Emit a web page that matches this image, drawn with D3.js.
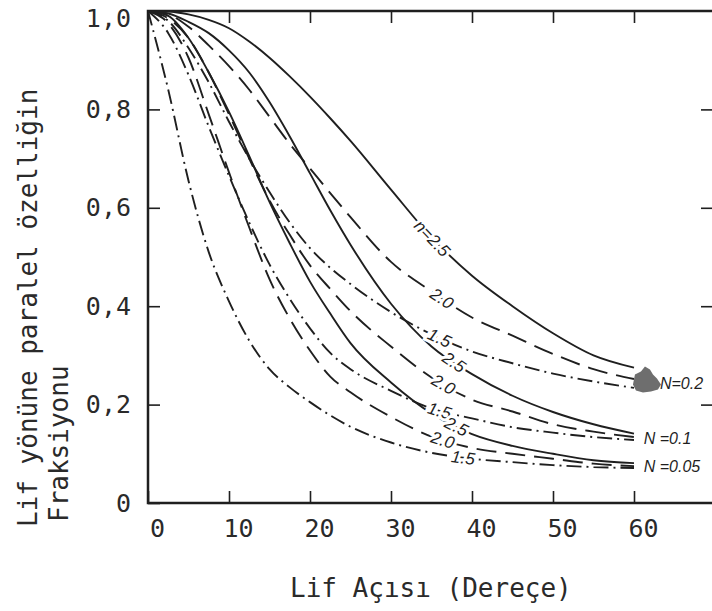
<!DOCTYPE html>
<html>
<head>
<meta charset="utf-8">
<script src="https://cdn.jsdelivr.net/npm/d3@7"></script>
<style>
  body { margin: 0; background: #fff; }
  svg { display: block; }
</style>
</head>
<body>
<svg id="chart" width="712" height="611"></svg>
<script>
// fibre angle (degrees) at which the curves were read
const angles = [0, 2.5, 5, 7.5, 10, 12.5, 15, 17.5, 20, 22.5, 25, 30, 35, 40, 45, 50, 55, 60]

// K = 0.2
const k02n25 = [1, 0.999, 0.993, 0.982, 0.965, 0.938, 0.905, 0.867, 0.826, 0.782, 0.736, 0.637, 0.54, 0.462, 0.40, 0.345, 0.30, 0.275]
const k02n20 = [1, 0.993, 0.968, 0.93, 0.888, 0.84, 0.785, 0.73, 0.68, 0.63, 0.581, 0.49, 0.43, 0.377, 0.34, 0.303, 0.272, 0.252]
const k02n15 = [1, 0.98, 0.925, 0.855, 0.775, 0.70, 0.632, 0.57, 0.518, 0.478, 0.445, 0.388, 0.343, 0.308, 0.284, 0.263, 0.247, 0.234]
// K = 0.1
const k01n25 = [1, 0.995, 0.978, 0.955, 0.92, 0.875, 0.815, 0.745, 0.67, 0.595, 0.525, 0.405, 0.318, 0.262, 0.218, 0.185, 0.16, 0.141]
const k01n20 = [1, 0.985, 0.945, 0.875, 0.79, 0.70, 0.615, 0.545, 0.483, 0.435, 0.39, 0.318, 0.255, 0.21, 0.186, 0.16, 0.145, 0.134]
const k01n15 = [1, 0.955, 0.87, 0.765, 0.665, 0.57, 0.485, 0.415, 0.355, 0.305, 0.272, 0.228, 0.192, 0.172, 0.154, 0.143, 0.134, 0.128]
// K = 0.05
const k005n25 = [1, 0.99, 0.945, 0.875, 0.795, 0.705, 0.612, 0.528, 0.45, 0.385, 0.325, 0.245, 0.182, 0.14, 0.116, 0.10, 0.087, 0.081]
const k005n20 = [1, 0.975, 0.905, 0.79, 0.672, 0.56, 0.455, 0.375, 0.31, 0.257, 0.225, 0.175, 0.135, 0.112, 0.10, 0.09, 0.08, 0.075]
const k005n15 = [1, 0.84, 0.655, 0.51, 0.41, 0.33, 0.272, 0.235, 0.205, 0.178, 0.155, 0.123, 0.102, 0.09, 0.083, 0.077, 0.073, 0.071]

const xTicks = [0, 10, 20, 30, 40, 50, 60]
const yTicks = [0, 0.2, 0.4, 0.6, 0.8, 1.0]
const yTickLabels = ["0", "0,2", "0,4", "0,6", "0,8", "1,0"]

const groupNames = ["N=0.2", "N =0.1", "N =0.05"]

// one entry per curve: values, its n, and the angle where its label sits
const curves = [
  {group: 0, n: "2.5", values: k02n25, labelAt: 35.1, text: "n=2.5"},
  {group: 0, n: "2.0", values: k02n20, labelAt: 36.3, text: "2.0"},
  {group: 0, n: "1.5", values: k02n15, labelAt: 36.0, text: "1.5"},
  {group: 1, n: "2.5", values: k01n25, labelAt: 37.8, text: "2.5"},
  {group: 1, n: "2.0", values: k01n20, labelAt: 36.5, text: "2.0"},
  {group: 1, n: "1.5", values: k01n15, labelAt: 36.0, text: "1.5"},
  {group: 2, n: "2.5", values: k005n25, labelAt: 38.1, text: "2.5"},
  {group: 2, n: "2.0", values: k005n20, labelAt: 36.4, text: "2.0"},
  {group: 2, n: "1.5", values: k005n15, labelAt: 38.9, text: "1.5"}
]

const dashByN = {"2.5": null, "2.0": "20,9", "1.5": "15,5,2,5"}
const ink = "#1f1f1f"
const mono = "'DejaVu Sans Mono', monospace"
const labelFont = "'Liberation Sans', Arial, sans-serif"

const svg = d3.select("#chart")
svg.append("rect").attr("width", 712).attr("height", 611).attr("fill", "#fff")

const x = d3.scaleLinear().domain([0, 70]).range([148, 715])
const y = d3.scaleLinear().domain([0, 1]).range([503, 11])

// axes with inward ticks
const bottomAxis = svg.append("g")
  .attr("transform", `translate(0,${y(0)})`)
  .call(d3.axisBottom(x).tickValues(xTicks).tickSize(-12).tickPadding(16).tickFormat(d => d))
svg.append("g")
  .attr("transform", `translate(0,${y(1)})`)
  .call(d3.axisTop(x).tickValues([10, 20, 30, 40, 50, 60]).tickSize(-12).tickFormat(""))
const leftAxis = svg.append("g")
  .attr("transform", `translate(${x(0)},0)`)
  .call(d3.axisLeft(y).tickValues(yTicks).tickSize(-12).tickPadding(17).tickFormat((d, i) => yTickLabels[i]))
svg.append("g")
  .attr("transform", `translate(${x(70)},0)`)
  .call(d3.axisRight(y).tickValues([0.2, 0.4, 0.6, 0.8]).tickSize(-14).tickFormat(""))

svg.selectAll(".domain").remove()
svg.selectAll(".tick line").attr("stroke", ink).attr("stroke-width", 1.6)
svg.selectAll(".tick text")
  .attr("font-family", mono)
  .attr("font-size", 25)
  .attr("fill", "#2a2a2a")
bottomAxis.selectAll(".tick text").attr("dx", 9)
// top label sits a little lower so it is not cut at the page edge
leftAxis.selectAll(".tick text").filter(d => d === 1).attr("dy", "0.62em")

// frame
const frame = svg.append("g").attr("stroke", ink).attr("stroke-width", 2.5).attr("fill", "none")
frame.append("path").attr("d", `M${x(70)},${y(1)}H${x(0)}V${y(0)}H${x(70)}`)

// curves
const line = d3.line()
  .x((d, i) => x(angles[i]))
  .y(d => y(d))
  .curve(d3.curveMonotoneX)

svg.append("g")
  .selectAll("path")
  .data(curves)
  .join("path")
  .attr("d", d => line(d.values))
  .attr("fill", "none")
  .attr("stroke", ink)
  .attr("stroke-width", 1.9)
  .attr("stroke-dasharray", d => dashByN[d.n])

function valueAt(values, t) {
  const i = Math.min(d3.bisectRight(angles, t), angles.length - 1)
  const a = angles[i - 1], b = angles[i]
  return values[i - 1] + (values[i] - values[i - 1]) * (t - a) / (b - a)
}

// inline n labels, masking the line under them
svg.append("g")
  .selectAll("text")
  .data(curves)
  .join("text")
  .attr("transform", d => {
    const t = d.labelAt
    const px = x(t), py = y(valueAt(d.values, t))
    const ang = Math.atan2(y(valueAt(d.values, t + 2)) - y(valueAt(d.values, t - 2)), x(t + 2) - x(t - 2)) * 180 / Math.PI
    return `translate(${px},${py}) rotate(${ang})`
  })
  .attr("text-anchor", "middle")
  .attr("dy", "0.36em")
  .attr("font-family", labelFont)
  .attr("font-style", "italic")
  .attr("font-size", 17)
  .attr("fill", ink)
  .attr("stroke", "#fff")
  .attr("stroke-width", 6)
  .attr("paint-order", "stroke")
  .text(d => d.text)

// scan blot near the K = 0.2 ends
svg.append("path")
  .attr("transform", `translate(${x(61.6)},${y(0.245)})`)
  .attr("d", "M-12,-8 L-6,-11 L-2,-16 L3,-13 L6,-8 L10,-4 L14,2 L11,7 L4,9 L-4,10 L-11,8 L-14,2 Z")
  .attr("fill", "#6e6e6e")

// K group labels at right
const groupEnds = [k02n15[k02n15.length - 1] + 0.01, k01n15[k01n15.length - 1] + 0.004, k005n15[k005n15.length - 1] + 0.003]
svg.append("g")
  .selectAll("text")
  .data(groupNames)
  .join("text")
  .attr("x", (d, i) => i === 0 ? x(63.2) : x(61.2))
  .attr("y", (d, i) => y(groupEnds[i]))
  .attr("dy", "0.36em")
  .attr("font-family", labelFont)
  .attr("font-style", "italic")
  .attr("font-size", 16)
  .attr("fill", ink)
  .text(d => d)

// axis titles
svg.append("text")
  .attr("transform", "translate(37,527) rotate(-90)")
  .attr("font-family", mono)
  .attr("font-size", 26)
  .attr("fill", "#2a2a2a")
  .text("Lif yönüne paralel özelliğin")
svg.append("text")
  .attr("transform", "translate(68,522) rotate(-90)")
  .attr("font-family", mono)
  .attr("font-size", 26)
  .attr("fill", "#2a2a2a")
  .text("Fraksiyonu")
svg.append("text")
  .attr("x", 290)
  .attr("y", 597)
  .attr("font-family", mono)
  .attr("font-size", 26)
  .attr("fill", "#2a2a2a")
  .text("Lif Açısı (Dereçe)")
</script>
</body>
</html>
